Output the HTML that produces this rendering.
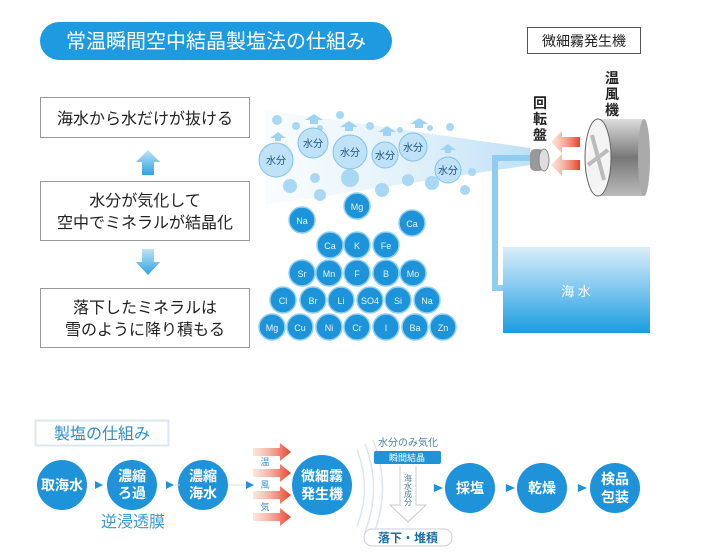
<!DOCTYPE html>
<html><head><meta charset="utf-8"><style>
html,body{margin:0;padding:0;background:#fff;}
svg text{font-family:"Liberation Sans","Noto Sans CJK JP",sans-serif;}
</style></head><body>
<svg width="716" height="550" viewBox="0 0 716 550" xmlns="http://www.w3.org/2000/svg">
<defs>
<linearGradient id="tank" x1="0" y1="0" x2="0" y2="1"><stop offset="0" stop-color="#d9eefa"/><stop offset="0.5" stop-color="#7cc6ef"/><stop offset="1" stop-color="#1a9de0"/></linearGradient>
<linearGradient id="beam" x1="1" y1="0" x2="0" y2="0"><stop offset="0" stop-color="#bfe0f5"/><stop offset="1" stop-color="#eaf5fc" stop-opacity="0.3"/></linearGradient>
<linearGradient id="cyl" x1="0" y1="0" x2="0" y2="1"><stop offset="0" stop-color="#ddd"/><stop offset="0.5" stop-color="#777"/><stop offset="1" stop-color="#bbb"/></linearGradient>
<linearGradient id="red" x1="0" y1="0" x2="1" y2="0"><stop offset="0" stop-color="#f7c1a8" stop-opacity="0.4"/><stop offset="1" stop-color="#e8402a"/></linearGradient>
<linearGradient id="arr" x1="0" y1="0" x2="0" y2="1"><stop offset="0" stop-color="#bfe3f7"/><stop offset="1" stop-color="#2da3e3"/></linearGradient>
</defs>
<!-- title -->
<rect x="40" y="22" width="352" height="38" rx="19" fill="#1e9be0"/>
<text x="216" y="48" font-size="20" fill="#fff" text-anchor="middle">常温瞬間空中結晶製塩法の仕組み</text>
<!-- left boxes -->
<rect x="40.5" y="97.5" width="209" height="40" fill="#fff" stroke="#999"/>
<text x="145" y="124" font-size="16" text-anchor="middle" fill="#222">海水から水だけが抜ける</text>
<path d="M136 162 L148 150 L160 162 L154 162 L154 175 L142 175 L142 162Z" fill="url(#arr)"/>
<rect x="40.5" y="181.5" width="209" height="59" fill="#fff" stroke="#999"/>
<text x="145" y="206" font-size="16" text-anchor="middle" fill="#222">水分が気化して</text>
<text x="145" y="228" font-size="16" text-anchor="middle" fill="#222">空中でミネラルが結晶化</text>
<path d="M142 249 L154 249 L154 262 L160 262 L148 275 L136 262 L142 262Z" fill="url(#arr)"/>
<rect x="40.5" y="288.5" width="209" height="59" fill="#fff" stroke="#999"/>
<text x="145" y="313" font-size="16" text-anchor="middle" fill="#222">落下したミネラルは</text>
<text x="145" y="335" font-size="16" text-anchor="middle" fill="#222">雪のように降り積もる</text>
<!-- beam -->
<path d="M265 110 L530 148 L530 165 L265 205Z" fill="url(#beam)"/>
<!-- pipe & tank -->
<path d="M530 158 L495 158 L495 288 L510 288" fill="none" stroke="#8fcdf0" stroke-width="6"/>
<rect x="503" y="247" width="147" height="86" fill="url(#tank)"/>
<text x="576" y="296" font-size="13" fill="#fff" text-anchor="middle">海 水</text>
<!-- small bubbles -->
<g fill="#a8d8f4">
<circle cx="277" cy="120" r="5"/><circle cx="296" cy="126" r="4"/><circle cx="340" cy="115" r="4"/><circle cx="320" cy="128" r="3"/><circle cx="370" cy="126" r="4"/><circle cx="400" cy="130" r="3"/><circle cx="430" cy="128" r="3"/><circle cx="450" cy="127" r="4"/>
<circle cx="290" cy="186" r="7"/><circle cx="315" cy="178" r="5"/><circle cx="350" cy="178" r="9"/><circle cx="382" cy="190" r="7"/><circle cx="408" cy="180" r="6"/><circle cx="432" cy="183" r="7"/><circle cx="465" cy="190" r="5"/><circle cx="472" cy="172" r="4"/><circle cx="320" cy="195" r="6"/>
</g>
<g fill="#9fd3f2">
<path d="M270 138 l8 -6 l8 6 h-5 v3 h-6 v-3z"/><path d="M305 120 l9 -6 l9 6 h-5 v4 h-8 v-4z"/><path d="M340 127 l9 -6 l9 6 h-5 v4 h-8 v-4z"/><path d="M378 132 l9 -6 l9 6 h-5 v4 h-8 v-4z"/><path d="M410 124 l9 -6 l9 6 h-5 v4 h-8 v-4z"/><path d="M440 150 l8 -6 l8 6 h-5 v3 h-6 v-3z"/>
</g>
<g fill="#bfe2f7" stroke="#7fc3ea" stroke-width="1">
<circle cx="276" cy="160" r="17"/><circle cx="313" cy="143" r="15"/><circle cx="350" cy="152" r="17"/><circle cx="385" cy="155" r="13"/><circle cx="413" cy="147" r="14"/><circle cx="448" cy="170" r="13"/>
</g>
<g font-size="10" fill="#1c4f7a" text-anchor="middle">
<text x="276" y="164">水分</text><text x="313" y="147">水分</text><text x="350" y="156">水分</text><text x="385" y="159">水分</text><text x="413" y="151">水分</text><text x="448" y="174">水分</text>
</g>
<!-- minerals -->
<g fill="#1d93da" stroke="#8fd0f3" stroke-width="1.5">
<circle cx="302" cy="220" r="13"/><circle cx="357" cy="206" r="13"/><circle cx="412" cy="223" r="13"/>
<circle cx="330" cy="245" r="13"/><circle cx="357" cy="245" r="13"/><circle cx="386" cy="245" r="13"/>
<circle cx="302" cy="273" r="13"/><circle cx="329" cy="273" r="13"/><circle cx="357" cy="273" r="13"/><circle cx="386" cy="273" r="13"/><circle cx="413" cy="273" r="13"/>
<circle cx="283" cy="300" r="13"/><circle cx="313" cy="300" r="13"/><circle cx="341" cy="300" r="13"/><circle cx="370" cy="300" r="13"/><circle cx="398" cy="300" r="13"/><circle cx="427" cy="300" r="13"/>
<circle cx="272" cy="327" r="13"/><circle cx="300" cy="327" r="13"/><circle cx="329" cy="327" r="13"/><circle cx="357" cy="327" r="13"/><circle cx="386" cy="327" r="13"/><circle cx="415" cy="327" r="13"/><circle cx="443" cy="327" r="13"/>
</g>
<g font-size="9" fill="#e8f6ff" text-anchor="middle">
<text x="302" y="224">Na</text><text x="357" y="210">Mg</text><text x="412" y="227">Ca</text>
<text x="330" y="249">Ca</text><text x="357" y="249">K</text><text x="386" y="249">Fe</text>
<text x="302" y="277">Sr</text><text x="329" y="277">Mn</text><text x="357" y="277">F</text><text x="386" y="277">B</text><text x="413" y="277">Mo</text>
<text x="283" y="304">Cl</text><text x="313" y="304">Br</text><text x="341" y="304">Li</text><text x="370" y="304">SO4</text><text x="398" y="304">Si</text><text x="427" y="304">Na</text>
<text x="272" y="331">Mg</text><text x="300" y="331">Cu</text><text x="329" y="331">Ni</text><text x="357" y="331">Cr</text><text x="386" y="331">I</text><text x="415" y="331">Ba</text><text x="443" y="331">Zn</text>
</g>
<!-- right machines -->
<rect x="527.5" y="27.5" width="113" height="26" fill="#fff" stroke="#555"/>
<text x="584" y="46" font-size="14" text-anchor="middle" fill="#222">微細霧発生機</text>
<g font-size="14" fill="#222" text-anchor="middle" font-weight="bold">
<text x="612" y="83">温</text><text x="612" y="99">風</text><text x="612" y="115">機</text>
<text x="540" y="108">回</text><text x="540" y="124">転</text><text x="540" y="140">盤</text>
</g>
<rect x="530" y="149" width="14" height="22" rx="5" fill="#999"/>
<ellipse cx="544" cy="160" rx="5" ry="11" fill="#ddd" stroke="#888"/>
<path d="M580 137 L562 137 L562 131 L551 142 L562 153 L562 147 L580 147Z" fill="url(#red)"/>
<path d="M580 160 L562 160 L562 154 L551 165 L562 176 L562 170 L580 170Z" fill="url(#red)"/>
<rect x="598" y="119" width="46" height="77" fill="url(#cyl)"/>
<ellipse cx="644" cy="157.5" rx="6" ry="38.5" fill="#aaa"/>
<ellipse cx="598" cy="157.5" rx="13" ry="38.5" fill="#f4f4f4" stroke="#666"/>
<path d="M592 135 L604 180 M588 165 L608 150" stroke="#bbb" stroke-width="4"/>
<!-- bottom -->
<rect x="35.5" y="420.5" width="133" height="25" fill="#fff" stroke="#dde8ee" stroke-width="2"/>
<text x="102" y="439" font-size="16" fill="#2a8fd0" text-anchor="middle">製塩の仕組み</text>
<g fill="#1e93da">
<circle cx="62" cy="485" r="25"/><circle cx="132" cy="485" r="25"/><circle cx="203" cy="485" r="25"/><circle cx="322" cy="485" r="30"/>
<circle cx="470" cy="488" r="25"/><circle cx="542" cy="488" r="25"/><circle cx="615" cy="488" r="25"/>
<path d="M95 481 L103 485 L95 489Z"/><path d="M166 481 L174 485 L166 489Z"/><path d="M246 481 L254 485 L246 489Z"/>
<path d="M434 484 L443 488 L434 492Z"/><path d="M506 484 L515 488 L506 492Z"/><path d="M578 484 L587 488 L578 492Z"/>
</g>
<line x1="175" y1="485" x2="180" y2="485" stroke="#ccc"/><line x1="228" y1="485" x2="246" y2="485" stroke="#ddd"/>
<g font-size="14" fill="#fff" text-anchor="middle" font-weight="bold">
<text x="62" y="490">取海水</text>
<text x="132" y="481">濃縮</text><text x="132" y="498">ろ過</text>
<text x="203" y="481">濃縮</text><text x="203" y="498">海水</text>
<text x="322" y="481">微細霧</text><text x="322" y="499">発生機</text>
<text x="470" y="493">採塩</text><text x="542" y="493">乾燥</text>
<text x="615" y="484">検品</text><text x="615" y="502">包装</text>
</g>
<text x="133" y="527" font-size="16" fill="#3a9ad8" text-anchor="middle">逆浸透膜</text>
<g fill="url(#red)">
<path d="M253 448 H280 V443 L291 452 L280 461 V456 H253Z"/>
<path d="M253 469 H280 V464 L291 473 L280 482 V477 H253Z"/>
<path d="M253 491 H280 V486 L291 495 L280 504 V499 H253Z"/>
<path d="M253 513 H280 V508 L291 517 L280 526 V521 H253Z"/>
</g>
<g font-size="9" fill="#3a8fd0" text-anchor="middle"><text x="265" y="465">温</text><text x="265" y="488">風</text><text x="265" y="510">気</text></g>
<g fill="none" stroke="#dde6ec" stroke-width="1.5">
<path d="M357 450 Q372 488 357 526"/><path d="M365 444 Q382 488 365 532"/><path d="M373 440 Q392 488 373 536"/>
</g>
<text x="408" y="446" font-size="10" fill="#4a7fa8" text-anchor="middle">水分のみ気化</text>
<rect x="374" y="451" width="67" height="13" rx="2" fill="#1e93da"/>
<text x="407" y="461" font-size="9" fill="#fff" text-anchor="middle">瞬間結晶</text>
<path d="M400 466 V505 H390 L408 522 L426 505 H416 V466" fill="none" stroke="#ccc"/>
<text x="408" y="490" font-size="8" fill="#4a7fa8" text-anchor="middle" writing-mode="tb">海水成分</text>
<rect x="364" y="529" width="88" height="17" rx="8" fill="#fff" stroke="#ccd"/>
<text x="408" y="542" font-size="12" fill="#1e6ea8" text-anchor="middle" font-weight="bold">落下・堆積</text>
</svg>
</body></html>
